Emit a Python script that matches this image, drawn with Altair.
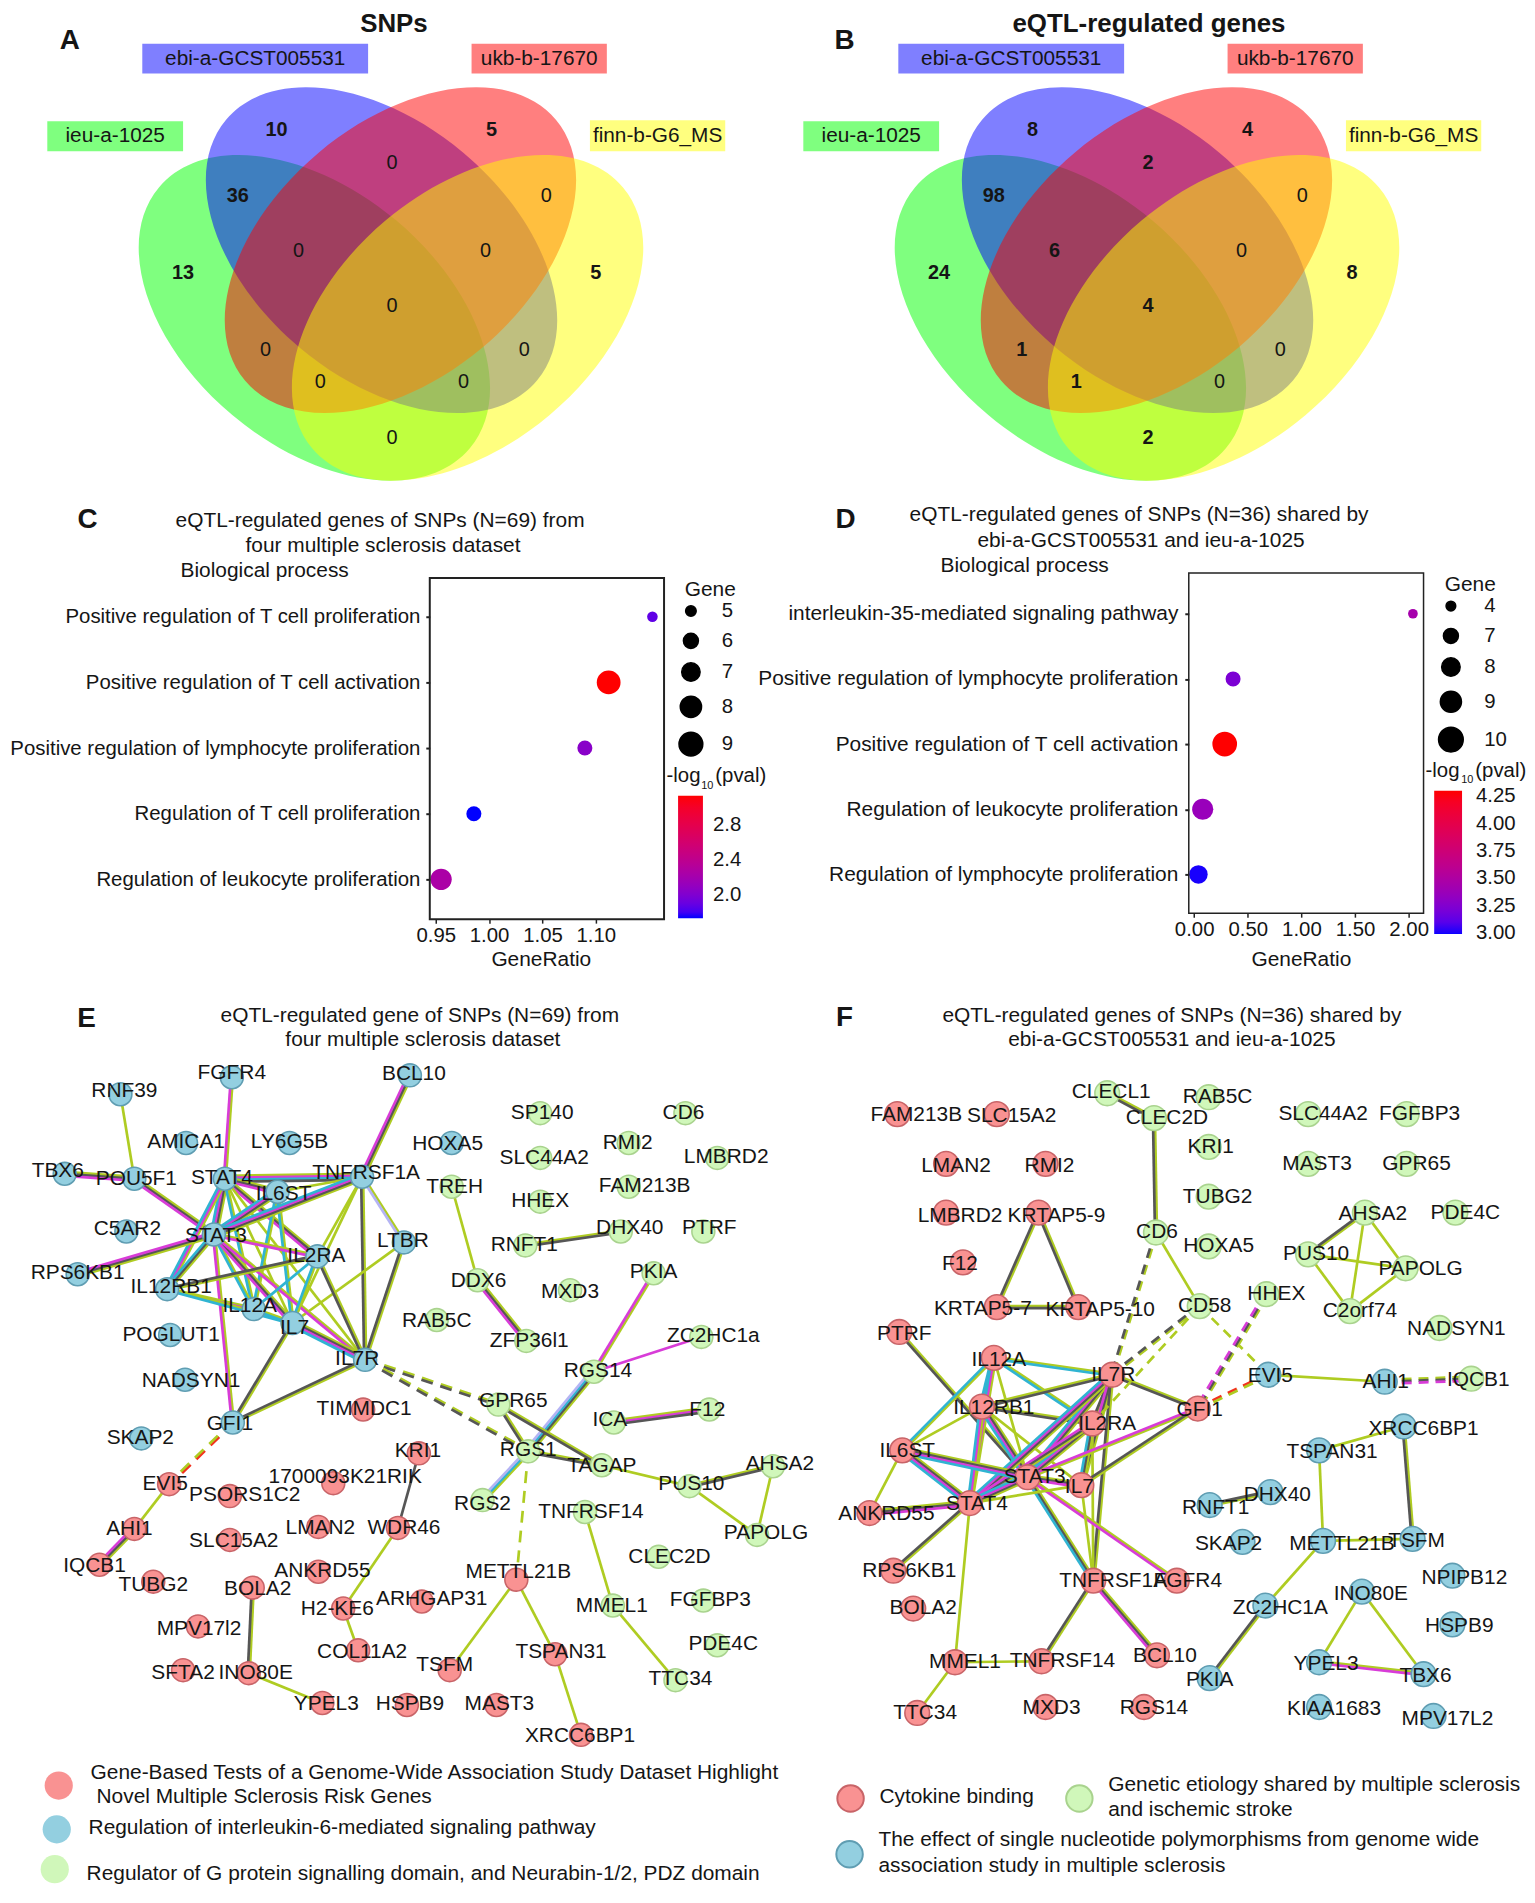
import math
import altair as alt
import pandas as pd

W, H = 1527, 1882
Y0 = 12
FONT = "Liberation Sans"
INK = "#151515"

# ---- Venn ----
VENN_SETS = ["ieu-a-1025", "ebi-a-GCST005531", "ukb-b-17670", "finn-b-G6_MS"]
VENN_COLORS = ["#00ff00", "#0000ff", "#ff0000", "#ffff00"]
VENN_CX = [316, 383.5, 402.5, 470]
VENN_CY = [318.5, 250.5, 250.5, 318.5]
VENN_ANGLE = [40, 40, 140, 140]
VENN_BOX_X = [(47.5, 184), (143, 370), (474, 610), (593, 729)]
VENN_BOX_Y = [(121, 151), (43, 73), (43, 73), (120, 151)]
VENN_NUM_X = [278, 494, 394, 239, 549, 300, 488, 184, 599, 394, 267, 527, 322, 466, 394]
VENN_NUM_Y = [130, 130, 163, 196, 196, 251, 251, 273, 273, 307, 351, 351, 383, 383, 439]
VENN_A = [10, 5, 0, 36, 0, 0, 0, 13, 5, 0, 0, 0, 0, 0, 0]
VENN_B = [8, 4, 2, 98, 0, 6, 0, 24, 8, 4, 1, 0, 1, 0, 2]
VENN_DX = 760

# ---- Dot plots ----
C_TERMS = ["Positive regulation of T cell proliferation", "Positive regulation of T cell activation",
           "Positive regulation of lymphocyte proliferation", "Regulation of T cell proliferation",
           "Regulation of leukocyte proliferation"]
C_RATIO = [1.153, 1.112, 1.0897, 0.9857, 0.955]
C_GENE = [5, 9, 6, 6, 8]
C_PVAL = [1.87, 3.13, 2.04, 1.73, 2.25]
D_TERMS = ["interleukin-35-mediated signaling pathway", "Positive regulation of lymphocyte proliferation",
           "Positive regulation of T cell activation", "Regulation of leukocyte proliferation",
           "Regulation of lymphocyte proliferation"]
D_RATIO = [2.04, 0.363, 0.285, 0.08, 0.04]
D_GENE = [4, 7, 10, 9, 8]
D_PVAL = [3.44, 3.22, 4.30, 3.36, 3.0]

# ---- Network E: (gene, node x, node y, label x, label y) ----
E_BLUE = [("RNF39",121,1099,125,1096),("FGFR4",233,1082,233,1078),("BCL10",412,1080,416,1079),
 ("AMICA1",187,1148,187,1147),("LY6G5B",291,1148,291,1147),("HOXA5",454,1148,450,1149),
 ("TBX6",65,1179,58,1176),("POU5F1",135,1184,137,1184),("STAT4",226,1184,223,1183),
 ("IL6ST",279,1197,285,1199),("TNFRSF1A",364,1182,368,1178),("C5AR2",127,1237,128,1235),
 ("STAT3",215,1240,217,1242),("LTBR",406,1248,405,1247),("RPS6KB1",78,1280,78,1279),
 ("IL2RA",319,1262,318,1262),("IL12RB1",168,1295,172,1293),("IL12A",255,1315,251,1312),
 ("IL7",294,1329,296,1334),("POGLUT1",171,1341,172,1341),("IL7R",367,1366,359,1365),
 ("NADSYN1",186,1386,192,1387),("GFI1",234,1429,231,1431),("SKAP2",142,1445,141,1445)]
E_RED = [("TIMMDC1",365,1416,366,1415),("EVI5",170,1491,166,1491),("PSORS1C2",231,1503,246,1502),
 ("1700093K21RIK",335,1490,347,1484),("KRI1",421,1460,420,1458),("WDR46",400,1535,406,1535),
 ("LMAN2",320,1534,322,1535),("AHI1",135,1536,130,1536),("SLC15A2",231,1547,235,1548),
 ("IQCB1",100,1572,95,1573),("TUBG2",154,1589,154,1592),("ANKRD55",320,1579,324,1578),
 ("BOLA2",254,1595,259,1596),("H2-KE6",345,1616,339,1617),("ARHGAP31",424,1609,434,1606),
 ("MPV17l2",199,1634,200,1637),("SFTA2",184,1678,184,1681),("INO80E",250,1681,257,1681),
 ("COL11A2",360,1658,364,1660),("METTL21B",519,1587,521,1579),("TSFM",452,1678,447,1673),
 ("TSPAN31",558,1662,564,1660),("HSPB9",409,1713,412,1712),("MAST3",499,1713,502,1712),
 ("YPEL3",324,1711,328,1712),("XRCC6BP1",584,1743,583,1744)]
E_GREEN = [("SP140",543,1118,545,1118),("CD6",689,1118,687,1118),("RMI2",632,1148,631,1148),
 ("SLC44A2",543,1163,547,1163),("LMBRD2",721,1163,730,1162),("TREH",454,1192,457,1192),
 ("FAM213B",632,1192,648,1191),("HHEX",543,1207,543,1206),("DHX40",624,1237,633,1234),
 ("PTRF",707,1237,713,1234),("RNFT1",528,1251,527,1251),("PKIA",657,1279,657,1278),
 ("DDX6",480,1286,481,1287),("MXD3",573,1296,573,1298),("RAB5C",439,1326,439,1327),
 ("ZFP36l1",529,1347,532,1347),("ZC2HC1a",705,1343,717,1342),("RGS14",597,1378,601,1377),
 ("F12",713,1416,711,1416),("GPR65",501,1411,516,1407),("ICA",617,1429,613,1427),
 ("RGS1",531,1458,531,1457),("TAGAP",605,1472,605,1473),("PUS10",693,1493,695,1491),
 ("AHSA2",777,1473,784,1471),("RGS2",485,1507,485,1511),("TNFRSF14",588,1519,594,1519),
 ("PAPOLG",761,1542,770,1540),("CLEC2D",662,1564,673,1564),("MMEL1",616,1613,615,1613),
 ("FGFBP3",707,1608,714,1607),("PDE4C",721,1653,727,1652),("TTC34",679,1688,684,1687)]
E_EDGES = [("RNF39","POU5F1","g"),("TBX6","POU5F1","gkm"),("POU5F1","STAT3","gkm"),("FGFR4","STAT4","gm"),
 ("BCL10","TNFRSF1A","gkm"),("STAT4","TNFRSF1A","gmck"),("STAT4","IL6ST","gkm"),("STAT4","STAT3","gkmc"),
 ("STAT4","IL12RB1","gmc"),("STAT4","IL2RA","gkm"),("STAT4","IL7R","g"),("STAT4","IL12A","gc"),("STAT4","IL7","g"),
 ("IL6ST","STAT3","gkmc"),("IL6ST","TNFRSF1A","g"),("IL6ST","IL12A","gc"),("IL6ST","IL7","gc"),
 ("TNFRSF1A","STAT3","gkmc"),("TNFRSF1A","IL2RA","g"),("TNFRSF1A","IL7","g"),("TNFRSF1A","IL7R","gk"),
 ("TNFRSF1A","LTBR","gl"),("LTBR","IL7R","gk"),("LTBR","IL7","g"),("STAT3","RPS6KB1","gkm"),("STAT3","IL12RB1","gkc"),
 ("STAT3","IL2RA","gm"),("STAT3","IL12A","gc"),("STAT3","IL7","gkm"),("STAT3","IL7R","gm"),("STAT3","GFI1","gm"),
 ("IL2RA","IL12RB1","gk"),("IL2RA","IL12A","c"),("IL2RA","IL7","gc"),("IL2RA","IL7R","gk"),("IL12RB1","IL12A","gm"),
 ("IL12RB1","IL7","gc"),("IL12A","IL7","gc"),("IL7","IL7R","gkmc"),("IL7","GFI1","gk"),("IL7R","GFI1","gk"),
 ("EVI5","AHI1","g"),("AHI1","IQCB1","gkm"),("KRI1","WDR46","k"),("WDR46","H2-KE6","g"),("H2-KE6","COL11A2","g"),
 ("BOLA2","INO80E","gk"),("INO80E","YPEL3","g"),("TREH","DDX6","g"),("DDX6","ZFP36l1","gkm"),("RNFT1","DHX40","gk"),
 ("PKIA","RGS14","gm"),("ZC2HC1a","RGS14","m"),("RGS14","RGS1","gkcl"),("ICA","F12","gmk"),("GPR65","RGS1","gk"),
 ("GPR65","TAGAP","gk"),("RGS1","TAGAP","gk"),("RGS1","RGS2","gcl"),("TAGAP","PUS10","g"),("PUS10","AHSA2","gk"),
 ("PUS10","PAPOLG","g"),("AHSA2","PAPOLG","g"),("TNFRSF14","MMEL1","g"),("MMEL1","TTC34","g"),
 ("METTL21B","TSFM","g"),("METTL21B","TSPAN31","g"),("TSPAN31","XRCC6BP1","g")]
E_DASHED = [("IL7R","GPR65","gk"),("IL7R","RGS1","gk"),("GFI1","EVI5","rg"),("RGS1","METTL21B","g")]

# ---- Network F ----
F_RED = [("FAM213B",902,1119,921,1120),("SLC15A2",1002,1119,1017,1121),("LMAN2",951,1169,961,1171),
 ("RMI2",1051,1169,1055,1171),("LMBRD2",951,1218,965,1221),("KRTAP5-9",1044,1218,1062,1221),
 ("F12",968,1268,965,1270),("KRTAP5-7",1002,1313,988,1315),("KRTAP5-10",1084,1313,1106,1316),
 ("PTRF",904,1338,909,1340),("IL12A",999,1364,1004,1366),("IL7R",1118,1381,1119,1381),
 ("IL12RB1",987,1413,999,1414),("GFI1",1204,1415,1206,1416),("IL2RA",1098,1430,1113,1431),
 ("IL6ST",907,1457,912,1458),("STAT3",1033,1484,1040,1484),("IL7",1087,1492,1085,1494),
 ("STAT4",975,1510,982,1511),("ANKRD55",874,1520,891,1521),("RPS6KB1",898,1578,914,1578),
 ("TNFRSF1A",1099,1588,1119,1588),("FGFR4",1183,1588,1194,1588),("BOLA2",918,1616,928,1616),
 ("MMEL1",960,1670,970,1670),("TNFRSF14",1047,1669,1068,1669),("BCL10",1163,1663,1171,1664),
 ("TTC34",922,1721,930,1721),("MXD3",1051,1715,1057,1716),("RGS14",1150,1715,1160,1716)]
F_BLUE = [("EVI5",1275,1381,1277,1382),("AHI1",1392,1388,1393,1388),("XRCC6BP1",1411,1433,1431,1436),
 ("TSPAN31",1326,1457,1339,1459),("DHX40",1277,1499,1284,1502),("RNFT1",1216,1512,1222,1515),
 ("SKAP2",1249,1549,1235,1551),("METTL21B",1330,1548,1349,1551),("TSFM",1420,1546,1424,1548),
 ("NPIPB12",1460,1583,1472,1585),("INO80E",1369,1599,1378,1601),("ZC2HC1A",1272,1613,1287,1616),
 ("HSPB9",1460,1632,1467,1634),("YPEL3",1326,1670,1333,1672),("TBX6",1431,1682,1433,1684),
 ("PKIA",1216,1686,1216,1688),("KIAA1683",1326,1715,1341,1717),("MPV17L2",1441,1724,1455,1727)]
F_GREEN = [("CLECL1",1113,1098,1117,1097),("CLEC2D",1160,1123,1173,1123),("RAB5C",1215,1102,1224,1102),
 ("SLC44A2",1315,1119,1330,1119),("FGFBP3",1414,1119,1427,1119),("KRI1",1215,1152,1217,1152),
 ("MAST3",1315,1169,1324,1169),("GPR65",1414,1169,1424,1169),("TUBG2",1215,1202,1224,1202),
 ("AHSA2",1372,1218,1380,1219),("PDE4C",1463,1218,1473,1218),("CD6",1162,1238,1163,1238),
 ("HOXA5",1215,1252,1225,1252),("PUS10",1315,1260,1323,1260),("PAPOLG",1413,1274,1428,1275),
 ("HHEX",1273,1300,1283,1300),("CD58",1206,1312,1211,1312),("C2orf74",1357,1317,1367,1317),
 ("NADSYN1",1447,1334,1464,1335),("IQCB1",1479,1385,1486,1386)]
F_EDGES = [("CLECL1","CLEC2D","gk"),("CLEC2D","CD6","gk"),("KRTAP5-9","KRTAP5-7","gk"),("KRTAP5-9","KRTAP5-10","gk"),
 ("KRTAP5-7","KRTAP5-10","gk"),("CD6","CD58","g"),("EVI5","AHI1","g"),("AHSA2","PUS10","gk"),("AHSA2","PAPOLG","g"),
 ("AHSA2","C2orf74","g"),("PUS10","PAPOLG","g"),("PUS10","C2orf74","g"),("PAPOLG","C2orf74","g"),("PTRF","STAT3","gk"),
 ("IL12A","IL7R","gc"),("IL12A","IL12RB1","gmc"),("IL12A","IL2RA","gc"),("IL12A","IL6ST","gc"),("IL12A","STAT3","g"),
 ("IL12A","STAT4","gmc"),("IL12RB1","IL7R","gk"),("IL12RB1","IL2RA","gk"),("IL12RB1","IL6ST","g"),("IL12RB1","STAT3","gkmc"),
 ("IL12RB1","STAT4","gmc"),("IL12RB1","IL7","g"),("IL7R","GFI1","gk"),("IL7R","IL2RA","gk"),("IL7R","STAT3","gkmc"),
 ("IL7R","STAT4","gkmc"),("IL7R","IL7","gkm"),("IL7R","TNFRSF1A","gk"),("IL2RA","STAT3","gkmc"),("IL2RA","STAT4","gkm"),
 ("IL2RA","IL7","gkc"),("IL2RA","TNFRSF1A","g"),("GFI1","STAT3","gm"),("GFI1","IL7","gk"),("IL6ST","STAT3","gkmc"),
 ("IL6ST","STAT4","gkmc"),("IL6ST","ANKRD55","g"),("ANKRD55","STAT4","gkm"),("STAT3","STAT4","gkmc"),("STAT3","IL7","gkm"),
 ("STAT3","TNFRSF1A","gkc"),("STAT3","FGFR4","gm"),("STAT4","RPS6KB1","gk"),("STAT4","MMEL1","g"),("STAT4","IL7","g"),
 ("IL7","TNFRSF1A","g"),("TNFRSF1A","TNFRSF14","gk"),("TNFRSF1A","BCL10","gkm"),("MMEL1","TNFRSF14","g"),("MMEL1","TTC34","g"),
 ("DHX40","RNFT1","gk"),("METTL21B","TSPAN31","g"),("XRCC6BP1","TSPAN31","g"),("XRCC6BP1","TSFM","gk"),("METTL21B","TSFM","g"),
 ("METTL21B","ZC2HC1A","g"),("ZC2HC1A","PKIA","gk"),("INO80E","YPEL3","g"),("INO80E","TBX6","g"),("YPEL3","TBX6","gm")]
F_DASHED = [("CD6","IL7R","gk"),("CD58","IL7R","gk"),("CD58","IL2RA","g"),("CD58","EVI5","g"),("HHEX","GFI1","gkm"),
 ("GFI1","EVI5","rg"),("AHI1","IQCB1","gkm")]

STRAND = {"g": "#AFCC22", "k": "#565656", "m": "#D83CD8", "c": "#30B4D2", "l": "#B4B4F4", "r": "#F2321E"}
NODE_FILL = {"red": "#F99292", "blue": "#93CFE0", "green": "#D0F7BA"}
NODE_EDGE = {"red": "#C86468", "blue": "#5F9DB2", "green": "#A9D38E"}

X = alt.X("x:Q", scale=alt.Scale(domain=[8, 1535], range=[0, W]), axis=None)
Y = alt.Y("y:Q", scale=alt.Scale(domain=[Y0, Y0 + H], range=[0, H]), axis=None)
SHIFT = Y0 - 8  # dot-plot panels are set in chart pixels


def text_layer(rows, size, weight="normal", align="center"):
    df = pd.DataFrame(rows, columns=["x", "y", "t"])
    return alt.Chart(df).mark_text(font=FONT, fontSize=size, fontWeight=weight, align=align, color=INK).encode(
        x=X, y=Y, text="t:N")


def ellipse_layer(dx):
    b, k = 0.627, 0.5523
    path = (f"M-1,0C-1,{-k*b},{-k},{-b},0,{-b}C{k},{-b},1,{-k*b},1,0"
            f"C1,{k*b},{k},{b},0,{b}C{-k},{b},-1,{k*b},-1,0Z")
    df = pd.DataFrame({"x": [c + dx for c in VENN_CX], "y": VENN_CY, "c": VENN_COLORS, "a": VENN_ANGLE,
                       "s": [408 ** 2] * 4})
    return alt.Chart(df).mark_point(shape=path, filled=True, opacity=0.5, strokeWidth=0).encode(
        x=X, y=Y, color=alt.Color("c:N", scale=None), angle=alt.Angle("a:Q", scale=None),
        size=alt.Size("s:Q", scale=None))


def venn(dx, values):
    df = pd.DataFrame({"x": [a + dx for a, _ in VENN_BOX_X], "x2": [b + dx for _, b in VENN_BOX_X],
                       "y": [a for a, _ in VENN_BOX_Y], "y2": [b for _, b in VENN_BOX_Y], "c": VENN_COLORS})
    boxes = alt.Chart(df).mark_rect(opacity=0.5).encode(
        x=X, x2="x2:Q", y=Y, y2="y2:Q", color=alt.Color("c:N", scale=None))
    names = [((a + b) / 2 + dx, (c + d) / 2, n) for (a, b), (c, d), n in zip(VENN_BOX_X, VENN_BOX_Y, VENN_SETS)]
    bold = [(x + dx, y, str(v)) for x, y, v in zip(VENN_NUM_X, VENN_NUM_Y, values) if v]
    plain = [(x + dx, y, str(v)) for x, y, v in zip(VENN_NUM_X, VENN_NUM_Y, values) if not v]
    return [ellipse_layer(dx), boxes, text_layer(names, 20.9), text_layer(bold, 20, "bold"), text_layer(plain, 20)]


def network(red, blue, green, edges, dashed, dia, dash):
    pos = {r[0]: r[1:3] for r in red + blue + green}

    def strands(es):
        rows = []
        for a, b, code in es:
            xa, ya = pos[a]
            xb, yb = pos[b]
            L = math.hypot(xb - xa, yb - ya)
            nx, ny = -(yb - ya) / L, (xb - xa) / L
            for i, c in enumerate(code):
                o = (i - (len(code) - 1) / 2) * 2.0
                rows.append({"x": xa + nx * o, "y": ya + ny * o, "x2": xb + nx * o, "y2": yb + ny * o,
                             "c": STRAND[c]})
        return pd.DataFrame(rows)

    enc = dict(x=X, x2="x2:Q", y=Y, y2="y2:Q", color=alt.Color("c:N", scale=None))
    out = [alt.Chart(strands(edges)).mark_rule(strokeWidth=2.7).encode(**enc),
           alt.Chart(strands(dashed)).mark_rule(strokeWidth=2.7, strokeDash=dash).encode(**enc)]
    size = math.pi * dia * dia / 4
    labels = []
    for group, key in ((red, "red"), (blue, "blue"), (green, "green")):
        df = pd.DataFrame(group, columns=["t", "x", "y", "lx", "ly"])
        out.append(alt.Chart(df[["x", "y"]]).mark_point(
            filled=True, opacity=1, fill=NODE_FILL[key], stroke=NODE_EDGE[key], strokeWidth=1.6, size=size
        ).encode(x=X, y=Y))
        labels += [(r[3], r[4], r[0]) for r in group]
    out.append(text_layer(labels, 21))
    return out


def legend_dots(rows, stroke, dia):
    df = pd.DataFrame(rows, columns=["x", "y", "k"])
    df["f"] = df["k"].map(NODE_FILL)
    df["s"] = df["k"].map(NODE_EDGE) if stroke else df["f"]
    return alt.Chart(df).mark_point(filled=True, opacity=1, strokeWidth=2 if stroke else 0,
                                    size=math.pi * dia * dia / 4).encode(
        x=X, y=Y, fill=alt.Fill("f:N", scale=None), stroke=alt.Stroke("s:N", scale=None))


base = []
base += venn(0, VENN_A) + venn(VENN_DX, VENN_B)
base += network(E_RED, E_BLUE, E_GREEN, E_EDGES, E_DASHED, 26, [12, 8])
base += network(F_RED, F_BLUE, F_GREEN, F_EDGES, F_DASHED, 28, [10, 7])
base += [
    legend_dots([(59, 1794, "red"), (57, 1838, "blue"), (55, 1878, "green")], False, 32),
    legend_dots([(855, 1807, "red"), (1085, 1807, "green"), (854, 1863, "blue")], True, 30),
    text_layer([(396, 23, "SNPs"), (1155, 23, "eQTL-regulated genes")], 26, "bold"),
    text_layer([(70, 40, "A"), (849, 40, "B"), (88, 522, "C"), (850, 522, "D"), (87, 1023, "E"), (849, 1022, "F")],
               28, "bold"),
    text_layer([(382, 523, "eQTL-regulated genes of SNPs (N=69) from"), (385, 548, "four multiple sclerosis dataset"),
                (266, 573, "Biological process"), (1145, 517, "eQTL-regulated genes of SNPs (N=36) shared by"),
                (1147, 543, "ebi-a-GCST005531 and ieu-a-1025"), (1030, 568, "Biological process"),
                (422, 1020, "eQTL-regulated gene of SNPs (N=69) from"), (425, 1045, "four multiple sclerosis dataset"),
                (1178, 1020, "eQTL-regulated genes of SNPs (N=36) shared by"),
                (1178, 1045, "ebi-a-GCST005531 and ieu-a-1025")], 21),
    text_layer([(714, 592, "Gene"), (1478, 587, "Gene")], 21),
    text_layer([(670, 779, "-log"), (719, 779, "(pval)"), (1433, 774, "-log"), (1483, 774, "(pval)")], 20.5, align="left"),
    text_layer([(711, 789, "10"), (1475, 783, "10")], 11),
    text_layer([(91, 1781, "Gene-Based Tests of a Genome-Wide Association Study Dataset Highlight"),
                (97, 1806, "Novel Multiple Sclerosis Risk Genes"),
                (89, 1837, "Regulation of interleukin-6-mediated signaling pathway"),
                (87, 1883, "Regulator of G protein signalling domain, and Neurabin-1/2, PDZ domain"),
                (884, 1806, "Cytokine binding"), (1114, 1793, "Genetic etiology shared by multiple sclerosis"),
                (1114, 1819, "and ischemic stroke"),
                (883, 1849, "The effect of single nucleotide polymorphisms from genome wide"),
                (883, 1875, "association study in multiple sclerosis")], 21, align="left"),
]


def dotplot(terms, ratio, gene, pval, xdom, xr, yr, frame_bottom, frame_left, xvals, xfmt, title_x, title_y,
            gene_dom, gene_rng, gene_vals, legend_xy, lab_off, row_pad, col_dom, col_vals, col_fmt, col_xy, col_len,
            col_thick, col_off, y_pad, y_font):
    df = pd.DataFrame({"term": terms, "ratio": ratio, "gene": gene, "pval": pval})
    return alt.Chart(df).mark_point(filled=True, opacity=1).encode(
        x=alt.X("ratio:Q", scale=alt.Scale(domain=xdom, range=xr),
                axis=alt.Axis(orient="bottom", values=xvals, format=xfmt, grid=False, domain=False, tickColor="#222",
                              tickSize=4, tickWidth=1.5, labelFont=FONT, labelFontSize=20.5, labelColor=INK,
                              labelPadding=2, labelFlush=False, labelOverlap=False, title="GeneRatio", titleFont=FONT,
                              titleFontSize=21, titleFontWeight="normal", titleColor=INK, titleX=title_x, titleY=title_y,
                              offset=frame_bottom - SHIFT - H)),
        y=alt.Y("term:N", sort=terms, scale=alt.Scale(domain=terms, range=[yr[0] - SHIFT, yr[1] - SHIFT], padding=0),
                axis=alt.Axis(orient="left", title=None, grid=False, domain=False, tickColor="#222", tickSize=4,
                              tickWidth=2, labelFont=FONT, labelFontSize=y_font, labelColor=INK, labelPadding=y_pad,
                              labelLimit=500, offset=-frame_left)),
        size=alt.Size("gene:Q", scale=alt.Scale(domain=gene_dom, range=gene_rng),
                      legend=alt.Legend(values=gene_vals, title=None, orient="none", legendX=legend_xy[0],
                                        legendY=legend_xy[1] - SHIFT, labelFont=FONT, labelFontSize=20.5, labelColor=INK,
                                        labelOffset=lab_off, symbolFillColor="black", symbolStrokeColor="black",
                                        symbolType="circle", rowPadding=row_pad)),
        color=alt.Color("pval:Q", scale=alt.Scale(domain=col_dom, range=["#0000ff", "#ff0000"], interpolate="lab"),
                        legend=alt.Legend(values=col_vals, format=col_fmt, title=None, orient="none",
                                          legendX=col_xy[0], legendY=col_xy[1] - SHIFT, gradientLength=col_len,
                                          gradientThickness=col_thick, labelFont=FONT, labelFontSize=20.5,
                                          labelColor=INK, labelOffset=col_off, labelOverlap=False,
                                          gradientStrokeWidth=0)),
    )


def bar_ticks(values, dom, yr, x0, x1):
    t = max(4, (x1 - x0) * 0.2)
    df = pd.DataFrame({"v": values})
    ys = alt.Y("v:Q", scale=alt.Scale(domain=dom, range=[yr[0] - SHIFT, yr[1] - SHIFT]), axis=None)
    return [alt.Chart(df).mark_rule(color="white", strokeWidth=1).encode(y=ys, x=alt.value(a), x2=alt.value(b))
            for a, b in ((x0, x0 + t), (x1 - t, x1))]


panel_c = dotplot(C_TERMS, C_RATIO, C_GENE, C_PVAL, [0.9444, 1.1639], [424, 659.5], [611, 875], 915, 424,
                  [0.95, 1.0, 1.05, 1.1], ".2f", 535.6, 30, [5, 9], [113, 572], [5, 6, 7, 8, 9], (673.5, 595), 18, 8,
                  [1.73, 3.13], [2.0, 2.4, 2.8], ".1f", (673.6, 791), 123, 25, 10, 6, 20.5)
panel_d = dotplot(D_TERMS, D_RATIO, D_GENE, D_PVAL, [-0.05, 2.139], [1187, 1423], [608, 870], 909, 1187,
                  [0, 0.5, 1, 1.5, 2], ".2f", 1299.7, 36, [4, 7, 8, 9, 10], [95, 227, 346, 452, 616], [4, 7, 8, 9, 10],
                  (1437, 590), 20, 8, [2.99, 4.30], [3.0, 3.25, 3.5, 3.75, 4.0, 4.25], ".2f", (1433.7, 786), 144, 28, 14,
                  7, 21)

frame_c = alt.Chart(pd.DataFrame({"a": [0]})).mark_rect(fill=None, stroke="#222", strokeWidth=2).encode(
    x=alt.value(424), x2=alt.value(659.5), y=alt.value(572 - SHIFT), y2=alt.value(915 - SHIFT))
frame_d = alt.Chart(pd.DataFrame({"a": [0]})).mark_rect(fill=None, stroke="#222", strokeWidth=1.5).encode(
    x=alt.value(1187), x2=alt.value(1423), y=alt.value(567 - SHIFT), y2=alt.value(909 - SHIFT))

ticks = bar_ticks([2.0, 2.4, 2.8], [1.73, 3.13], [914, 791], 673.6, 698.6) + \
        bar_ticks([3.25, 3.5, 3.75, 4.0, 4.25], [2.99, 4.30], [930, 786], 1433.7, 1461.7)

chart = alt.layer(alt.layer(*base), panel_c, panel_d, frame_c, frame_d, *ticks).resolve_scale(
    x="independent", y="independent", color="independent", size="independent"
).properties(width=W, height=H, autosize=alt.AutoSizeParams(type="none"), padding=0).configure_view(stroke=None)

chart.save("out.html", embed_options={"renderer": "svg", "actions": False})
